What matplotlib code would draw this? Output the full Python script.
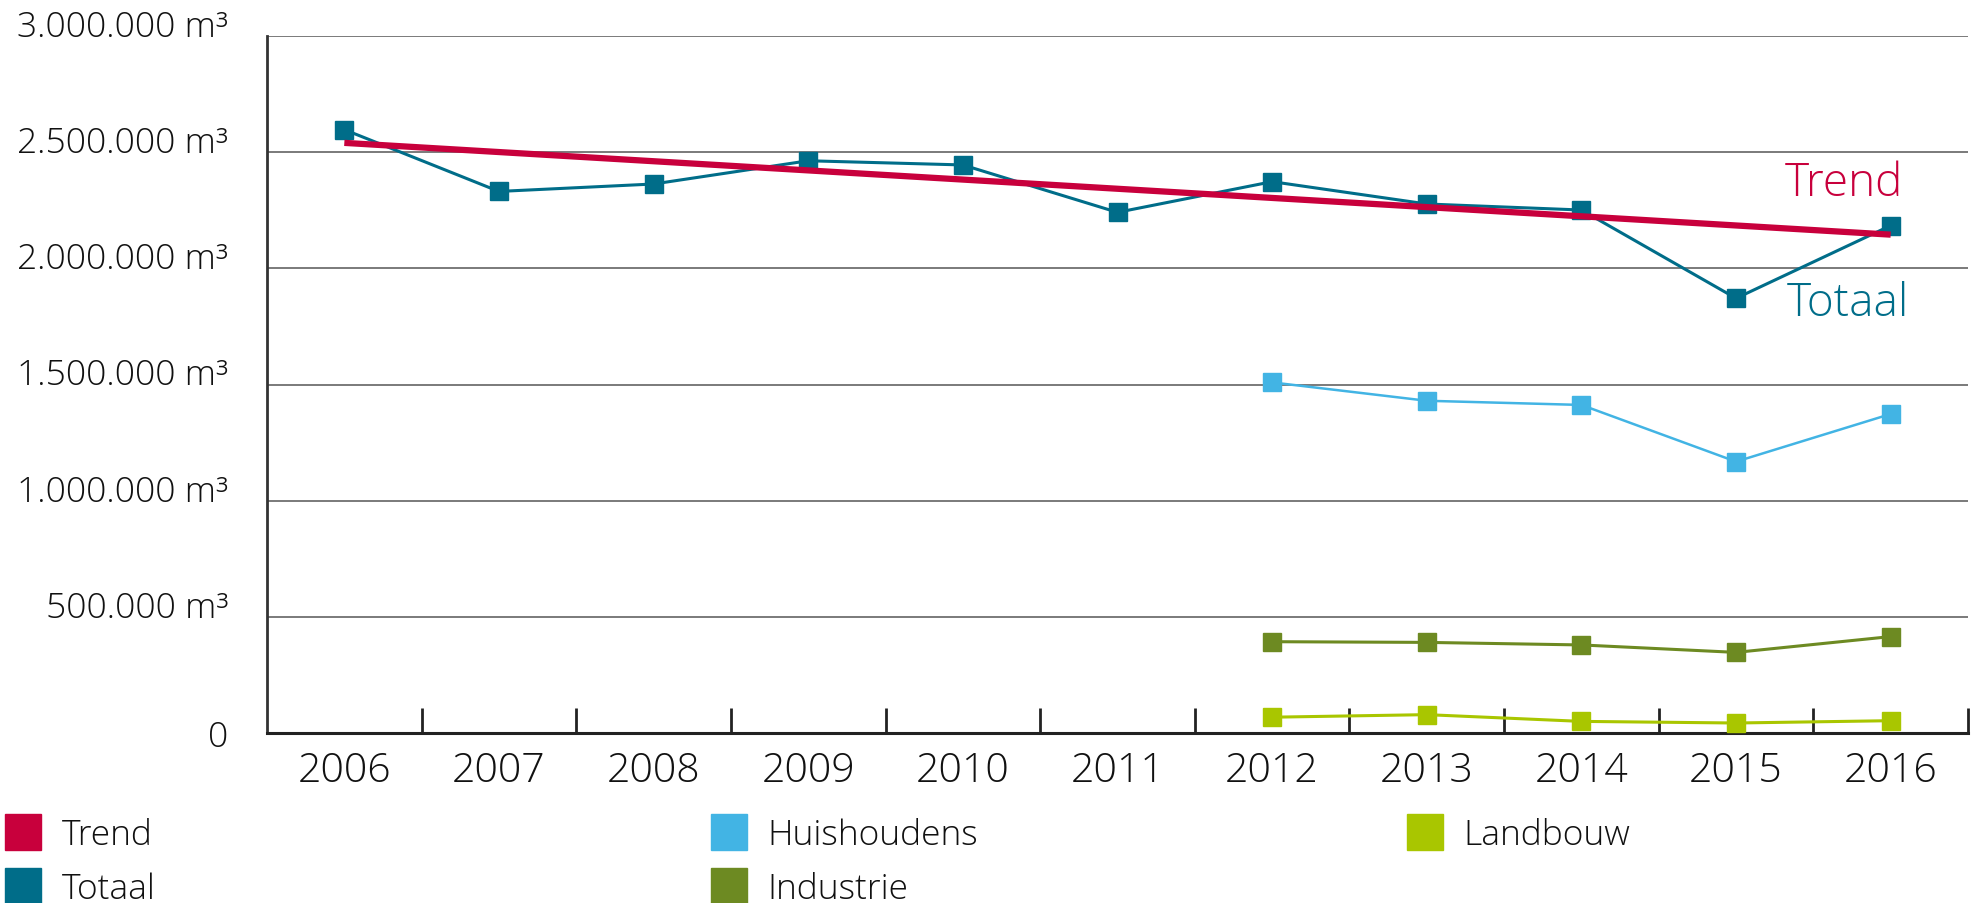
import matplotlib
matplotlib.use('Agg')
import matplotlib.pyplot as plt
from matplotlib.patches import Patch

plt.rcParams['font.family'] = ['Open Sans', 'DejaVu Sans']

# data
years = ['2006', '2007', '2008', '2009', '2010', '2011', '2012', '2013', '2014', '2015', '2016']
totaal = [2597000, 2331000, 2363000, 2463000, 2445000, 2241000, 2373000, 2277000, 2251000, 1871000, 2184000]
sector_years = ['2012', '2013', '2014', '2015', '2016']
huishoudens = [1509000, 1430000, 1412000, 1168000, 1373000]
industrie = [393000, 390000, 379000, 347000, 415000]
landbouw = [68000, 79000, 50000, 43000, 53000]
trend_years = ['2006', '2016']
trend = [2540000, 2145000]

y_ticks = [0, 500000, 1000000, 1500000, 2000000, 2500000, 3000000]
y_labels = ['0', '500.000 m³', '1.000.000 m³', '1.500.000 m³', '2.000.000 m³', '2.500.000 m³', '3.000.000 m³']

c_trend = '#c8003c'
c_totaal = '#006d89'
c_huis = '#42b4e4'
c_ind = '#6d8a22'
c_land = '#a9c600'
c_text = '#111111'

fig = plt.figure(figsize=(19.72, 9.04), dpi=100)
ax = fig.add_axes([267/1972, 1 - 734/904, (1968 - 267)/1972, (734 - 37)/904])

xi = {y: i for i, y in enumerate(years)}
sx = [xi[y] for y in sector_years]

ax.plot([xi[y] for y in years], totaal, color=c_totaal, lw=2.2, marker='s', ms=13, zorder=4, clip_on=False)
ax.plot([xi[y] for y in trend_years], trend, color=c_trend, lw=4.5, solid_capstyle='butt', zorder=5)
ax.plot(sx, huishoudens, color=c_huis, lw=1.8, marker='s', ms=13, zorder=4, clip_on=False)
ax.plot(sx, industrie, color=c_ind, lw=2.2, marker='s', ms=13, zorder=4, clip_on=False)
ax.plot(sx, landbouw, color=c_land, lw=2.2, marker='s', ms=13, zorder=4, clip_on=False)

ax.text(10.08, 2367000, 'Trend', color=c_trend, fontsize=33, ha='right', va='center', fontweight='light')
ax.text(10.12, 1851000, 'Totaal', color=c_totaal, fontsize=33, ha='right', va='center', fontweight='light')

ax.set_xlim(-0.5, 10.5)
ax.set_ylim(0, 3000000)
ax.set_yticks(y_ticks)
ax.set_yticklabels(y_labels, fontsize=25.5, fontweight='light', color=c_text)
for lab in ax.get_yticklabels()[1:]:
    lab.set_va('baseline')
ax.tick_params(axis='y', length=0, pad=28)
ax.yaxis.grid(True, color='#707070', lw=1.3)
ax.set_axisbelow(True)

ax.set_xticks(range(len(years)))
ax.set_xticklabels(years, fontsize=29.5, fontweight='light', color=c_text)
ax.set_xticks([i + 0.5 for i in range(len(years))], minor=True)
ax.tick_params(axis='x', which='major', length=0, pad=12)
ax.tick_params(axis='x', which='minor', direction='in', length=18, width=2, color='#222222')

for s in ['top', 'right']:
    ax.spines[s].set_visible(False)
ax.spines['bottom'].set_linewidth(2.2)
ax.spines['bottom'].set_color('#222222')
ax.spines['left'].set_linewidth(2)
ax.spines['left'].set_color('#333333')

# legend in three columns
cols = [[('Trend', c_trend), ('Totaal', c_totaal)],
        [('Huishoudens', c_huis), ('Industrie', c_ind)],
        [('Landbouw', c_land)]]
col_x = [-2/1972, 704/1972, 1400/1972]
for entries, x0 in zip(cols, col_x):
    handles = [Patch(color=c, label=n) for n, c in entries]
    leg = fig.legend(handles=handles, loc='upper left', bbox_to_anchor=(x0, 1 - 808/904), frameon=False,
                     prop={'size': 25.5, 'weight': 'light'}, handlelength=1.0, handleheight=1.2,
                     handletextpad=0.6, labelspacing=0.45, borderpad=0.2, borderaxespad=0)
    for t in leg.get_texts():
        t.set_color(c_text)

fig.savefig('out.png', dpi=100)
